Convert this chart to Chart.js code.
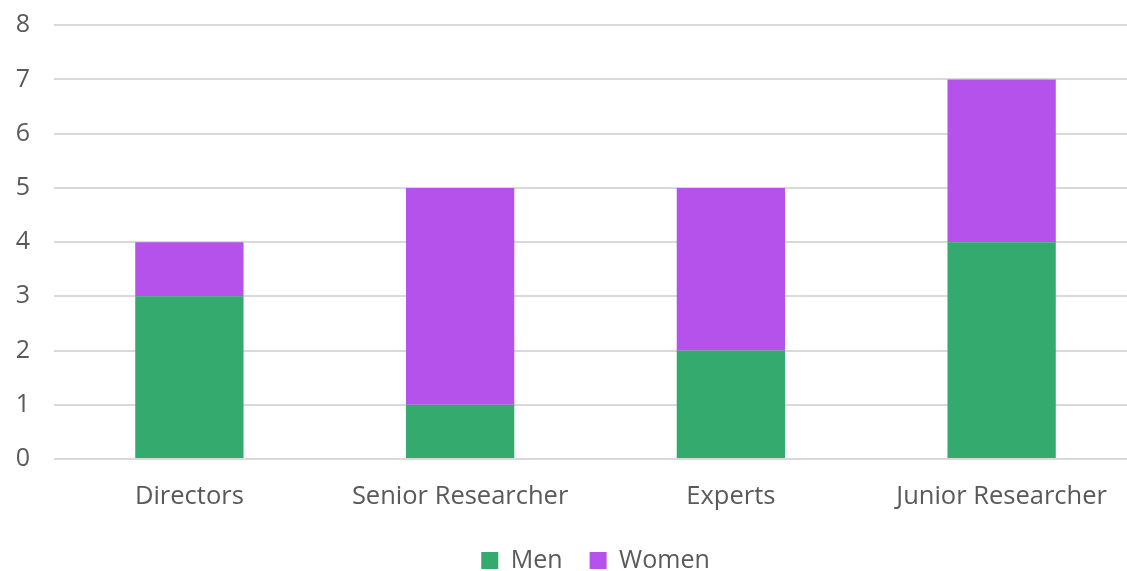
<!DOCTYPE html>
<html><head><meta charset="utf-8">
<script src="https://cdn.jsdelivr.net/npm/chart.js@4/dist/chart.umd.min.js"></script>
<style>
html,body{margin:0;padding:0;background:#fff;overflow:hidden;width:1127px;height:571px;}
#wrap{position:absolute;left:0;top:0;width:1137px;height:571px;overflow:hidden;}
</style></head>
<body><div id="wrap"><canvas id="c" width="1137" height="583"></canvas></div>
<script>
const categories = ["Directors", "Senior Researcher", "Experts", "Junior Researcher"];
const menValues = [3, 1, 2, 4];
const womenValues = [1, 4, 3, 3];
const yTicks = [0, 1, 2, 3, 4, 5, 6, 7, 8];

const FONT = "'Open Sans', 'Liberation Sans', sans-serif";
new Chart(document.getElementById('c'), {
  type: 'bar',
  data: {
    labels: categories,
    datasets: [
      {label: 'Men', data: menValues, backgroundColor: '#34aa6f', borderWidth: 0},
      {label: 'Women', data: womenValues, backgroundColor: '#b552eb', borderWidth: 0}
    ]
  },
  options: {
    responsive: false,
    animation: false,
    devicePixelRatio: 1,
    layout: {padding: {top: 0, right: 0, left: 0, bottom: 0}},
    datasets: {bar: {barPercentage: 0.4, categoryPercentage: 1.0}},
    plugins: {
      tooltip: {enabled: false},
      legend: {
        position: 'bottom',
        fullSize: false,
        labels: {
          font: {family: FONT, size: 25},
          color: '#595959',
          boxWidth: 17, boxHeight: 17, padding: 27
        }
      }
    },
    scales: {
      x: {
        stacked: true,
        grid: {display: false},
        border: {display: false},
        ticks: {font: {family: FONT, size: 25.5}, color: '#595959', padding: 14, maxRotation: 0},
        afterFit: s => { s.height = 62; }
      },
      y: {
        stacked: true,
        min: 0, max: 8,
        afterBuildTicks: s => { s.ticks = yTicks.map(v => ({value: v})); },
        grid: {color: '#d9d9d9', lineWidth: 2, drawTicks: false},
        border: {display: false},
        ticks: {font: {family: FONT, size: 25, lineHeight: 0.1}, color: '#595959', padding: 24},
        afterFit: s => { s.width = 54; }
      }
    }
  }
});
</script></body></html>
